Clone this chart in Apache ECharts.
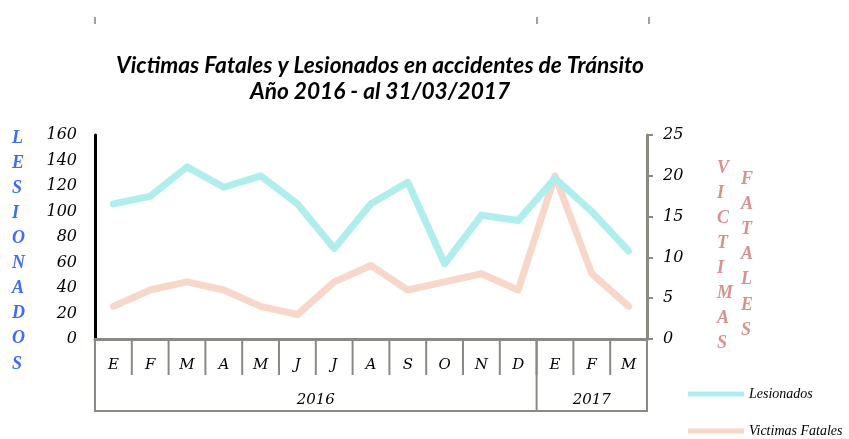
<!DOCTYPE html>
<html>
<head>
<meta charset="utf-8">
<script src="https://cdn.jsdelivr.net/npm/echarts@6/dist/echarts.min.js"></script>
<style>
  html, body { margin: 0; padding: 0; background: #fff; }
  #chart { width: 849px; height: 439px; }
</style>
</head>
<body>
<div id="chart"></div>
<script>
// meses (ene 2016 - mar 2017)
const months = ['E', 'F', 'M', 'A', 'M', 'J', 'J', 'A', 'S', 'O', 'N', 'D', 'E', 'F', 'M']
const years = ['2016', '2017']
const yearBounds = [0, 12, 15] // limites de cada año, en meses

// valores
const lesionados = [106, 112, 135, 119, 128, 106, 71, 106, 123, 59, 97, 93, 126, 100, 69]
const victimasFatales = [4, 6, 7, 6, 4, 3, 7, 9, 6, 7, 8, 6, 20, 8, 4]

const seriesNames = ['Lesionados', 'Victimas Fatales']
const leftTicks = [0, 160, 20]
const rightTicks = [0, 25, 5]

const gray = '#8a8a82'
const serif = 'DejaVu Serif'

let chart = echarts.init(document.getElementById('chart'))

// letras verticales de los titulos de eje
function verticalText (word, x, y, gap, color) {
  return word.split('').map((ch, i) => ({
    type: 'text',
    left: x,
    top: y + i * gap,
    style: {
      text: ch,
      fill: color,
      font: 'italic bold 18px "Liberation Serif"',
      textAlign: 'center'
    }
  }))
}

// una leyenda por serie, una debajo de otra
function legendFor (name, top) {
  return {
    left: 688,
    top: top,
    padding: 0,
    itemWidth: 56,
    itemHeight: 5,
    icon: 'roundRect',
    textStyle: { fontFamily: 'Liberation Serif', fontStyle: 'italic', fontSize: 14, color: '#000' },
    data: [name]
  }
}

chart.setOption({
  animation: false,
  title: {
    text: 'Victimas Fatales y Lesionados en accidentes de Tránsito\nAño 2016 - al 31/03/2017',
    left: 375,
    top: 48,
    textAlign: 'center',
    textStyle: {
      fontFamily: 'Lato',
      fontStyle: 'italic',
      fontWeight: 'bold',
      fontSize: 22.7,
      lineHeight: 26,
      color: '#000'
    }
  },
  legend: [legendFor(seriesNames[0], 387), legendFor(seriesNames[1], 424)],
  grid: { left: 95, right: 202, top: 135, bottom: 100 },
  xAxis: {
    type: 'category',
    data: months,
    boundaryGap: true,
    axisLine: { lineStyle: { color: gray, width: 3 } },
    axisTick: { show: false },
    axisLabel: { interval: 0, margin: 19, fontFamily: serif, fontStyle: 'italic', fontSize: 15, color: '#000' }
  },
  yAxis: [
    {
      type: 'value',
      min: leftTicks[0],
      max: leftTicks[1],
      interval: leftTicks[2],
      splitLine: { show: false },
      axisLine: { show: true, lineStyle: { color: '#000', width: 3 } },
      axisTick: { show: false },
      axisLabel: { margin: 18, fontFamily: serif, fontStyle: 'italic', fontSize: 16, color: '#000' }
    },
    {
      type: 'value',
      min: rightTicks[0],
      max: rightTicks[1],
      interval: rightTicks[2],
      position: 'right',
      splitLine: { show: false },
      axisLine: { show: true, lineStyle: { color: gray, width: 3 } },
      axisTick: { show: true, length: 6, lineStyle: { color: gray, width: 2 } },
      axisLabel: { margin: 16, fontFamily: serif, fontStyle: 'italic', fontSize: 16, color: '#000' }
    }
  ],
  series: [
    {
      name: seriesNames[0],
      type: 'line',
      data: lesionados,
      yAxisIndex: 0,
      symbol: 'none',
      color: '#b0eeee',
      lineStyle: { width: 7, cap: 'round', join: 'round' },
      z: 3
    },
    {
      name: seriesNames[1],
      type: 'line',
      data: victimasFatales,
      yAxisIndex: 1,
      symbol: 'none',
      color: '#f8d7cb',
      lineStyle: { width: 7, cap: 'round', join: 'round' },
      z: 2
    }
  ]
})

// tabla de meses / años bajo el eje, desde las escalas del grafico
let c0 = chart.convertToPixel({ xAxisIndex: 0 }, 0)
let band = chart.convertToPixel({ xAxisIndex: 0 }, 1) - c0
let edge = i => c0 + (i - 0.5) * band
let y0 = chart.convertToPixel({ yAxisIndex: 0 }, 0)
let rowH = 36

let graphics = []
let line = (x1, y1, x2, y2) => ({
  type: 'line',
  shape: { x1: x1, y1: y1, x2: x2, y2: y2 },
  style: { stroke: gray, lineWidth: 2 },
  z: 5
})
for (let i = 0; i <= months.length; i++) {
  graphics.push(line(edge(i), y0, edge(i), y0 + rowH))
}
yearBounds.forEach(b => graphics.push(line(edge(b), y0, edge(b), y0 + 2 * rowH)))
graphics.push(line(edge(0) - 1, y0 + 2 * rowH, edge(months.length) + 1, y0 + 2 * rowH))
years.forEach((yr, k) => {
  graphics.push({
    type: 'text',
    x: (edge(yearBounds[k]) + edge(yearBounds[k + 1])) / 2,
    y: y0 + rowH + 25,
    style: {
      text: yr,
      fill: '#000',
      font: 'italic 15px "' + serif + '"',
      textAlign: 'center',
      textVerticalAlign: 'middle'
    }
  })
})

graphics = graphics.concat(verticalText('LESIONADOS', 12, 129, 25.1, '#3d6ef2'))
graphics = graphics.concat(verticalText('VICTIMAS', 717, 159, 25, '#d9918f'))
graphics = graphics.concat(verticalText('FATALES', 741, 170, 25.2, '#d9918f'))
// marcas sueltas arriba
;[94, 536, 648].forEach(x => {
  graphics.push({ type: 'rect', shape: { x: x, y: 17, width: 2, height: 7 }, style: { fill: '#a0a09a' } })
})

chart.setOption({ graphic: graphics })
</script>
</body>
</html>
